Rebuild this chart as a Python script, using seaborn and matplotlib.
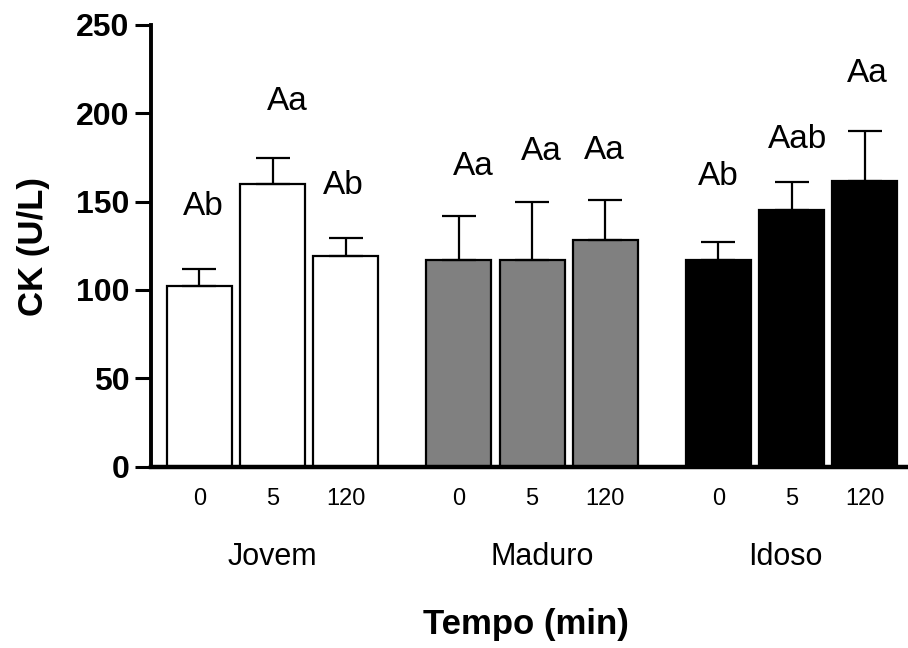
import numpy as np
import pandas as pd
import matplotlib
matplotlib.use("Agg")
import matplotlib.pyplot as plt
import matplotlib.transforms as mtransforms
import seaborn as sns

# ---- data ----
groups = ["Jovem", "Maduro", "Idoso"]
times = ["0", "5", "120"]
jovem_mean = [102, 160, 119.5]
maduro_mean = [117, 117, 128.5]
idoso_mean = [117, 145, 161.5]
jovem_sem = [10, 14.5, 10]
maduro_sem = [25, 32.5, 22.5]
idoso_sem = [10, 16, 28.5]
jovem_letters = ["Ab", "Aa", "Ab"]
maduro_letters = ["Aa", "Aa", "Aa"]
idoso_letters = ["Ab", "Aab", "Aa"]

# ---- layout / style ----
group_step = 3.545
bar_colors = ["#ffffff", "#808080", "#000000"]
letter_dy_pts = [45, 41, 38, 35.6, 36.5, 35.6, 47, 30.5, 41.5]   # text offset above error cap
letter_dx = [0.06, 0.2, -0.03, 0.2, 0.12, -0.02, 0.0, 0.08, 0.04]

sns.set_style("ticks")
plt.rcParams["font.family"] = ["Liberation Sans", "DejaVu Sans"]
for key in ["text.color", "axes.labelcolor", "xtick.color", "ytick.color",
            "axes.edgecolor"]:
    plt.rcParams[key] = "black"

means = [jovem_mean, maduro_mean, idoso_mean]
sems = [jovem_sem, maduro_sem, idoso_sem]
letters = [jovem_letters, maduro_letters, idoso_letters]
rows = []
for g, grp in enumerate(groups):
    for i, t in enumerate(times):
        rows.append({"pos": g * group_step + i, "group": grp, "time": t,
                     "mean": means[g][i], "sem": sems[g][i],
                     "letter": letters[g][i]})
df = pd.DataFrame(rows)

fig = plt.figure(figsize=(9.08, 6.48), dpi=100)
ax = fig.add_axes([151 / 908, 0.2798, (915 - 151) / 908, 0.9616 - 0.2798])

sns.barplot(data=df, x="pos", y="mean", hue="group", palette=bar_colors,
            native_scale=True, dodge=False, width=0.887, edgecolor="black",
            linewidth=1.6, errorbar=None, legend=False, ax=ax, zorder=2,
            saturation=1)

ax.errorbar(df["pos"], df["mean"], yerr=[np.zeros(len(df)), df["sem"]],
            fmt="none", ecolor="black", elinewidth=1.6, capsize=12,
            capthick=1.6, zorder=3)

for k, r in df.iterrows():
    ax.annotate(r["letter"], xy=(r["pos"] + letter_dx[k], r["mean"] + r["sem"]),
                xytext=(0, letter_dy_pts[k]), textcoords="offset points",
                ha="center", va="center", fontsize=24, color="black")

ax.set_xlim(-0.66, 9.775)
ax.set_ylim(0, 250)
ax.set_yticks([0, 50, 100, 150, 200, 250])
ax.set_xticks(df["pos"])
ax.set_xticklabels(df["time"], fontsize=17)
ax.tick_params(axis="x", length=0, pad=15)
ax.tick_params(axis="y", length=11.5, width=2.2, pad=4, labelsize=23)
for lab in ax.get_yticklabels():
    lab.set_fontweight("bold")
ax.set_xlabel("")
ax.set_ylabel("")
sns.despine(ax=ax)
ax.spines["left"].set_linewidth(2.8)
ax.spines["bottom"].set_linewidth(3.2)

# group labels
trans = mtransforms.blended_transform_factory(ax.transData, fig.transFigure)
group_dx = [0.0, 0.14, -0.08]
for g, grp in enumerate(groups):
    ax.text(g * group_step + 1 + group_dx[g], 0.1404, grp, transform=trans,
            ha="center", va="center", fontsize=22)

fig.text(525.5 / 908, 0.037, "Tempo (min)", ha="center", va="center",
         fontsize=25, fontweight="bold")
fig.text(34 / 908, 0.6196, "CK (U/L)", ha="center", va="center",
         rotation=90, fontsize=25, fontweight="bold")

fig.savefig("out.png", dpi=100)
